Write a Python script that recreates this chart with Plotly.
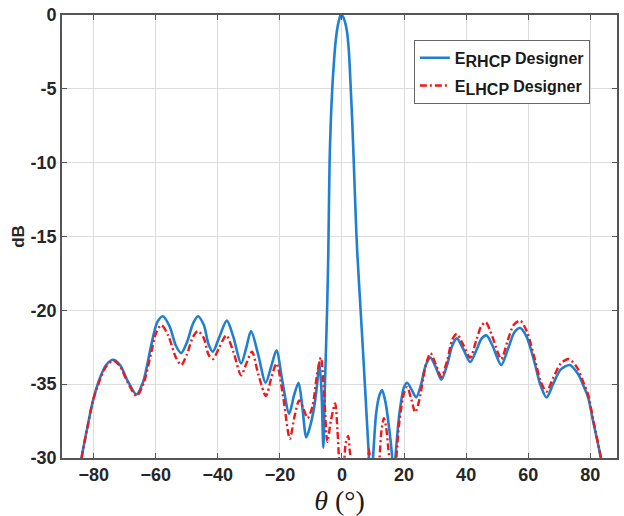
import plotly.graph_objects as go

# Radiation pattern cuts (theta in degrees, gain in dB)
theta_rhcp = [
    -84.5, -83.9, -82.0, -80.2, -78.0, -76.0, -73.7, -71.5, -69.0, -66.2,
    -64.0, -61.5, -59.5, -57.7, -55.5, -53.5, -51.8, -50.0, -48.0, -46.4,
    -44.5, -43.0, -41.6, -39.5, -37.1, -35.0, -32.5, -30.8, -29.3, -27.0,
    -24.6, -22.8, -21.1, -19.2, -17.0, -15.5, -14.0, -12.8, -11.5, -10.2,
    -9.0, -8.0, -7.3, -6.6, -6.0, -5.5, -4.8, -4.4, -4.0, -3.6,
    -3.1, -2.5, -2.0, -1.5, -1.0, -0.4, 0.3, 1.0, 1.6, 2.2,
    2.8, 3.3, 3.8, 4.4, 4.9, 6.4, 7.4, 8.7, 9.3, 10.0,
    11.0, 12.0, 12.9, 14.0, 15.2, 16.2, 16.7, 17.2, 18.5, 20.0,
    21.0, 22.5, 23.9, 25.5, 27.0, 28.5, 30.3, 32.0, 34.0, 35.5,
    37.0, 39.0, 41.3, 43.5, 45.0, 46.6, 48.5, 51.3, 53.5, 55.5,
    57.4, 59.5, 62.0, 64.0, 65.9, 68.0, 70.5, 73.4, 76.0, 78.0,
    79.3, 81.0, 83.4, 84.0,
]
db_rhcp = [
    -31.0, -30.0, -27.9, -26.1, -24.6, -23.7, -23.35, -23.7, -24.8, -25.7,
    -24.8, -22.4, -20.8, -20.4, -21.1, -22.4, -22.9, -22.2, -20.9, -20.4,
    -21.0, -22.3, -22.8, -21.8, -20.7, -21.8, -23.6, -22.5, -21.4, -23.0,
    -24.9, -23.8, -22.7, -24.8, -27.0, -25.8, -24.9, -26.5, -28.6, -27.8,
    -26.6, -25.0, -23.5, -25.5, -29.3, -25.1, -20.0, -16.0, -10.0, -7.2,
    -4.85, -2.9, -1.7, -0.9, -0.4, 0.0, -0.1, -0.5, -1.1, -2.4,
    -4.85, -7.2, -10.0, -13.5, -16.0, -21.4, -25.1, -30.0, -32.0, -30.0,
    -27.0, -25.8, -25.4, -26.2, -28.0, -30.0, -31.5, -30.0, -27.0, -25.2,
    -24.9, -25.4, -25.9, -25.0, -23.7, -23.2, -23.9, -24.7, -23.6, -22.4,
    -21.9, -22.6, -23.5, -22.6, -21.9, -21.7, -22.4, -23.7, -22.6, -21.5,
    -21.2, -21.8, -23.5, -25.1, -25.9, -25.0, -24.0, -23.7, -24.3, -25.2,
    -25.9, -27.6, -30.0, -31.0,
]

theta_lhcp = [
    -84.5, -83.9, -82.0, -80.2, -78.0, -76.0, -73.7, -71.5, -69.0, -66.2,
    -64.0, -61.5, -60.0, -58.2, -56.0, -53.5, -51.8, -50.0, -48.0, -46.4,
    -44.5, -43.0, -41.6, -39.5, -37.3, -35.0, -32.5, -30.8, -29.0, -27.0,
    -24.5, -22.8, -21.1, -19.0, -16.8, -15.3, -13.8, -12.5, -11.1, -9.5,
    -8.0, -6.8, -5.8, -4.7, -3.6, -2.2, -1.5, -1.0, -0.5, 0.5,
    1.2, 2.0, 2.5, 2.8, 3.5, 7.5, 8.3, 8.7, 9.1, 10.0,
    11.5, 12.1, 12.8, 13.5, 14.2, 15.0, 15.6, 16.5, 17.5, 18.5,
    20.0, 21.0, 22.3, 23.6, 25.0, 26.8, 28.5, 30.3, 32.0, 34.0,
    35.5, 37.0, 39.0, 41.3, 43.3, 44.8, 46.3, 48.3, 51.3, 53.3,
    55.3, 57.4, 59.5, 62.0, 64.0, 65.9, 68.0, 70.5, 73.1, 75.8,
    78.0, 79.3, 81.0, 83.4, 84.0,
]
db_lhcp = [
    -31.0, -30.0, -27.9, -26.1, -24.7, -23.8, -23.4, -23.8, -24.9, -25.8,
    -25.0, -22.9, -21.6, -21.0, -21.7, -23.2, -23.7, -23.0, -21.8, -21.4,
    -21.9, -23.0, -23.3, -22.5, -21.7, -22.8, -24.4, -23.6, -22.8, -24.3,
    -25.8, -24.6, -23.6, -25.8, -28.7, -27.2, -26.1, -26.6, -27.3, -26.5,
    -24.3, -23.2, -25.5, -28.9, -27.5, -26.3, -28.0, -30.0, -33.0, -31.0,
    -29.0, -28.5, -29.5, -30.0, -34.0, -34.0, -30.5, -29.4, -30.5, -33.0,
    -32.0, -30.0, -28.0, -27.3, -27.9, -29.5, -30.5, -32.0, -30.0, -27.5,
    -25.6, -25.2, -26.0, -26.9, -26.0, -23.9, -22.9, -23.7, -24.5, -23.3,
    -22.0, -21.6, -22.3, -23.2, -22.0, -21.1, -20.8, -21.7, -23.3, -22.1,
    -21.0, -20.7, -21.4, -23.2, -24.8, -25.5, -24.6, -23.6, -23.3, -23.9,
    -25.0, -25.7, -27.5, -30.0, -31.0,
]

x_ticks = [-80, -60, -40, -20, 0, 20, 40, 60, 80]
y_ticks = [0, -5, -10, -15, -20, -25, -30]
y_tick_text = ["0", "-5", "-10", "-15", "-20", "-35", "-30"]

SUB = "<sub><span style='font-size:16px'>{}</span></sub>"

fig = go.Figure()
fig.add_trace(go.Scatter(
    x=theta_rhcp, y=db_rhcp, mode="lines", legendgroup="rhcp",
    name="<b>E" + SUB.format("RHCP") + " Designer</b>",
    line=dict(color="#1f7fd0", width=2.6, shape="spline", smoothing=0.8),
))
fig.add_trace(go.Scatter(
    x=theta_lhcp, y=db_lhcp, mode="lines", legendgroup="lhcp",
    name="<b>E" + SUB.format("LHCP") + " Designer</b>",
    line=dict(color="#f01818", width=2.4, shape="spline", smoothing=0.8,
              dash="7px,3px,2px,3px"),
))

axis_common = dict(
    showline=True, linecolor="#555555", linewidth=1.6, mirror="allticks",
    ticks="inside", ticklen=5, tickcolor="#555555", tickwidth=1,
    showgrid=True, gridcolor="#dcdcdc", gridwidth=1, zeroline=False,
    tickfont=dict(family="Liberation Sans, Arial, sans-serif", size=18,
                  color="#262626", weight="bold"),
)

fig.update_xaxes(
    range=[-90.2, 88.6], tickvals=x_ticks,
    title=dict(text="<i>θ</i> (°)", standoff=0,
               font=dict(family="Liberation Serif, Times New Roman, serif",
                         size=28, color="#1a1a1a")),
    **axis_common,
)
fig.update_yaxes(
    range=[-30, 0], tickvals=y_ticks, ticktext=y_tick_text,
    title=dict(text="<b>dB</b>", standoff=2,
               font=dict(family="Liberation Sans, Arial, sans-serif",
                         size=17, color="#262626")),
    **axis_common,
)

fig.update_layout(
    width=624, height=516,
    margin=dict(l=62, r=5, t=13, b=58),
    plot_bgcolor="white", paper_bgcolor="white",
    showlegend=True,
    legend=dict(
        x=0.634, y=0.944, xanchor="left", yanchor="top",
        bgcolor="white", bordercolor="#666666", borderwidth=1,
        font=dict(family="Liberation Sans, Arial, sans-serif", size=16,
                  color="#1a1a1a"),
        tracegroupgap=4,
    ),
)

fig.write_html("out.html")
